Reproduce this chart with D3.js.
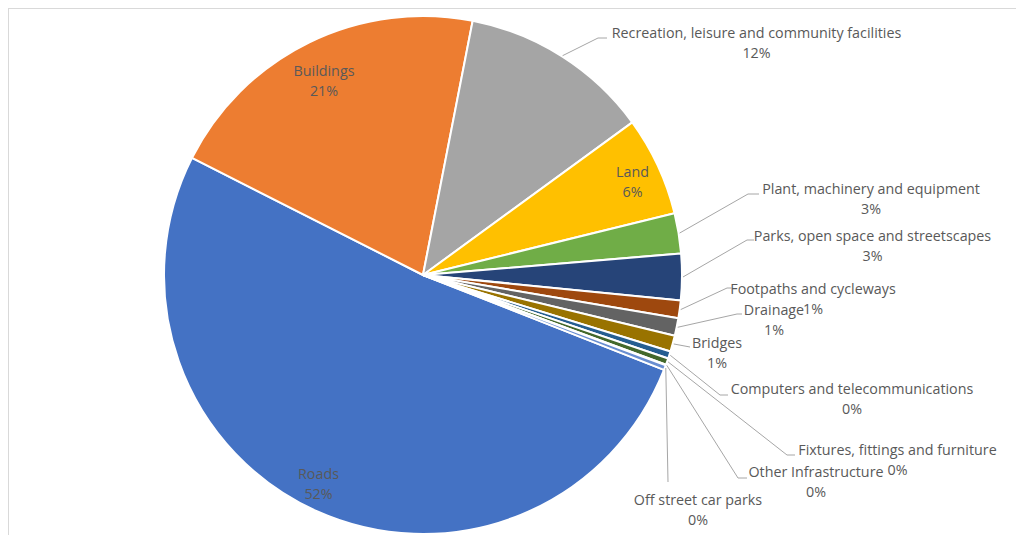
<!DOCTYPE html>
<html><head><meta charset="utf-8">
<script src="https://cdn.jsdelivr.net/npm/d3@7"></script>
<style>html,body{margin:0;padding:0;background:#fff;}svg{display:block;}</style>
</head><body>
<svg id="c" width="1016" height="535"></svg>
<script>
// ---- data ----
const categories = ["Roads","Buildings","Recreation, leisure and community facilities","Land",
  "Plant, machinery and equipment","Parks, open space and streetscapes","Footpaths and cycleways",
  "Drainage","Bridges","Computers and telecommunications","Fixtures, fittings and furniture",
  "Other Infrastructure","Off street car parks"];
const values = [51.5,20.6,11.9,6.2,2.5,2.9,1.1,1.1,1.0,0.45,0.4,0.05,0.3];
const percentLabels = ["52%","21%","12%","6%","3%","3%","1%","1%","1%","0%","0%","0%","0%"];

// ---- styles / layout ----
const colors = ["#4472C4","#ED7D31","#A5A5A5","#FFC000","#70AD47","#264478","#9E480E",
  "#636363","#997300","#255E91","#43682B","#F1975A","#698ED0"];
const cx = 423, cy = 275, R = 259;
const startDeg = 111.5;
const labelLayout = [
  {x:318.5, y:479, inside:true},
  {x:324, y:76, inside:true},
  {x:756.5, y:38, pts:[[598,38],[607,38]]},
  {x:632.5, y:177, inside:true},
  {x:871, y:194, pts:[[748,194],[759,194]]},
  {x:872.5, y:241, pts:[[747,240],[754,240]]},
  {x:813, y:294, pts:[[727,288],[732,288]]},
  {x:774, y:315, pts:[[737,314],[742,314]]},
  {x:717, y:348, pts:[[690,347]]},
  {x:852, y:394, pts:[[720,395],[728,395]]},
  {x:897.5, y:455, pts:[[787,455],[795,455]]},
  {x:816, y:477, pts:[[738,478],[747,478]]},
  {x:698, y:505, pts:[[668,482]]}
];

const svg = d3.select("#c");
svg.append("rect").attr("x",8.5).attr("y",8.5).attr("width",1100).attr("height",600)
  .attr("fill","#fff").attr("stroke","#D9D9D9").attr("stroke-width",1);

const data = categories.map((c,i)=>({name:c, value:values[i], pct:percentLabels[i], i}));
const pie = d3.pie().sort(null).value(d=>d.value)
  .startAngle(startDeg*Math.PI/180).endAngle(startDeg*Math.PI/180 + 2*Math.PI);
const arcs = pie(data);
const arc = d3.arc().innerRadius(0).outerRadius(R);
const g = svg.append("g").attr("transform",`translate(${cx},${cy})`);
g.selectAll("path.slice").data(arcs).join("path").attr("class","slice")
  .attr("d",arc).attr("fill",d=>colors[d.data.i])
  .attr("stroke","#fff").attr("stroke-width",2).attr("stroke-linejoin","round");

const font = "'Open Sans', sans-serif";
const fs = 14.3;
const labels = svg.append("g").attr("font-family",font).attr("font-size",fs).attr("fill","#595959");
const leaders = svg.append("g").attr("fill","none").attr("stroke","#A6A6A6").attr("stroke-width",1);
const edge = d3.arc().innerRadius(R+1).outerRadius(R+1);

arcs.forEach(a=>{
  const L = labelLayout[a.data.i];
  if(!L.inside){
    const c = edge.centroid(a);
    const p0 = [cx+c[0], cy+c[1]];
    const pts = [p0].concat(L.pts);
    leaders.append("path").attr("d", d3.line()(pts));
  }
  const t = labels.append("text").attr("text-anchor","middle");
  t.append("tspan").attr("x",L.x).attr("y",L.y).text(a.data.name);
  t.append("tspan").attr("x",L.x).attr("y",L.y+20).text(a.data.pct);
});
</script>
</body></html>
